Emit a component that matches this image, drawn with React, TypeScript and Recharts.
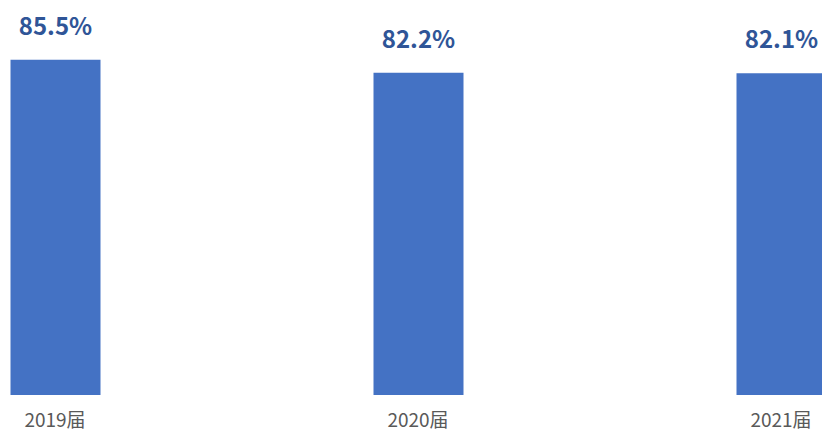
import { BarChart, Bar, XAxis, YAxis, LabelList } from 'recharts';

const years = ['2019届', '2020届', '2021届'];
const rates = [85.5, 82.2, 82.1];

const chartData = years.map((year, i) => ({ idx: i, year, rate: rates[i] }));

const App = () => {
  return (
    <div style={{ position: 'absolute', left: 0, top: 0 }}>
      <BarChart
        width={822}
        height={435}
        data={chartData}
        margin={{ top: 3, right: 41, bottom: 0, left: 55 }}
      >
        <XAxis
          type="number"
          dataKey="idx"
          domain={[0, 2]}
          ticks={[0, 1, 2]}
          tickFormatter={(v: number) => years[v]}
          axisLine={false}
          tickLine={false}
          tickSize={0}
          tickMargin={19}
          height={40}
          tick={{ fill: '#595959', fontSize: 19, fontFamily: 'Noto Sans CJK SC' }}
        />
        <YAxis hide domain={[0, 100]} />
        <Bar dataKey="rate" fill="#4472C4" barSize={90} isAnimationActive={false}>
          <LabelList
            dataKey="rate"
            position="top"
            offset={25}
            formatter={(v: number) => `${v}%`}
            style={{ fill: '#2F5597', fontSize: 24, fontWeight: 700, fontFamily: 'Noto Sans CJK SC' }}
          />
        </Bar>
      </BarChart>
    </div>
  );
};

export default App;
